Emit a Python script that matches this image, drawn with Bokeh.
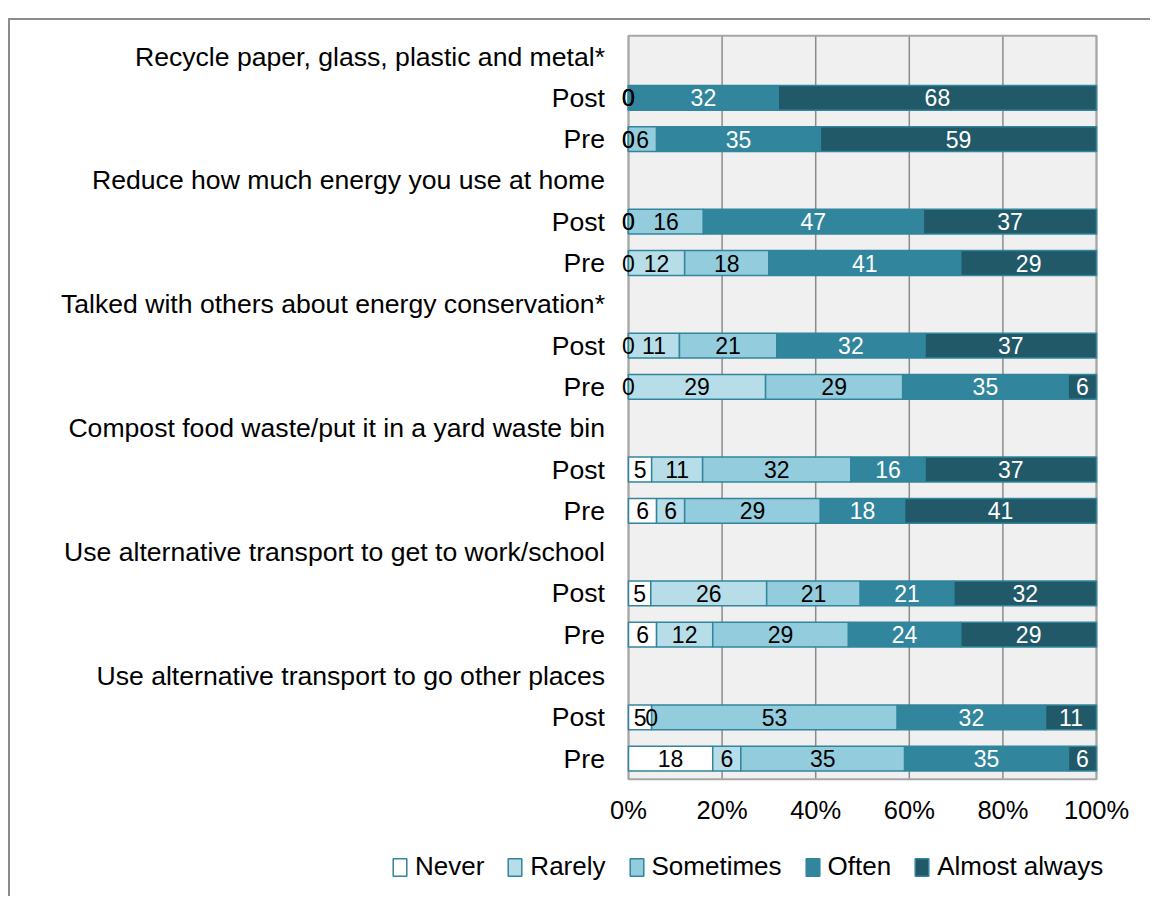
from bokeh.plotting import figure
from bokeh.models import ColumnDataSource, Range1d, Legend, LegendItem
from bokeh.core.properties import value
from bokeh.embed import file_html
from bokeh.resources import INLINE

categories = [
    "Recycle paper, glass, plastic and metal*",
    "Reduce how much energy you use at home",
    "Talked with others about energy conservation*",
    "Compost food waste/put it in a yard waste bin",
    "Use alternative transport to get to work/school",
    "Use alternative transport to go other places",
]
waves = ["Post", "Pre"]
series_names = ["Never", "Rarely", "Sometimes", "Often", "Almost always"]
# values per row: [cat0 Post, cat0 Pre, cat1 Post, cat1 Pre, ...]
never = [0, 0, 0, 0, 0, 0, 5, 6, 5, 6, 5, 18]
rarely = [0, 0, 0, 12, 11, 29, 11, 6, 26, 12, 0, 6]
sometimes = [0, 6, 16, 18, 21, 29, 32, 29, 21, 29, 53, 35]
often = [32, 35, 47, 41, 32, 35, 16, 18, 21, 24, 32, 35]
almost_always = [68, 59, 37, 29, 37, 6, 37, 41, 32, 29, 11, 6]
x_ticks = [0, 20, 40, 60, 80, 100]
x_tick_labels = ["0%", "20%", "40%", "60%", "80%", "100%"]

series = [never, rarely, sometimes, often, almost_always]
fills = ["#ffffff", "#b7dee8", "#93cddd", "#31859c", "#215968"]
label_colors = ["#000000", "#000000", "#000000", "#ffffff", "#ffffff"]
FONT = "Liberation Sans"

# ---- layout constants (pixels) ----
W, H = 1142, 878           # canvas (page offset by CSS margin+border: 10, 20)
PLOT_LEFT = 618            # canvas x of 0%
PX_PER_PCT = 4.68
ROW0 = 36                  # canvas y of first row centre
ROW_PX = 41.3
N_ROWS = 3 * len(categories)

# row positions: header, Post, Pre per category
row_y = []
tick_pos = []
tick_txt = []
for i, c in enumerate(categories):
    tick_pos.append(3 * i)
    tick_txt.append(c)
    for j, w in enumerate(waves):
        tick_pos.append(3 * i + 1 + j)
        tick_txt.append(w)
        row_y.append(3 * i + 1 + j)

totals = [sum(s[k] for s in series) for k in range(len(row_y))]

p = figure(
    width=W, height=H,
    x_range=Range1d(-PLOT_LEFT / PX_PER_PCT, (W - PLOT_LEFT) / PX_PER_PCT),
    y_range=Range1d((H - ROW0) / ROW_PX, -ROW0 / ROW_PX),
    x_axis_location=None, y_axis_location=None,
    output_backend="svg", toolbar_location=None,
    min_border=0,
)
p.styles = {
    "margin-left": "8px", "margin-top": "18px",
    "border-left": "2px solid #8c8c8c", "border-top": "2px solid #8c8c8c",
}
p.background_fill_color = "#ffffff"
p.border_fill_color = "#ffffff"
p.outline_line_color = None
p.grid.visible = False

y_top, y_bot = -0.5, N_ROWS - 0.5
x0, x1 = x_ticks[0], x_ticks[-1]

# plot-area background
p.quad(left=[x0], right=[x1], bottom=[y_bot], top=[y_top],
       fill_color="#f0f0f0", line_color=None)
# vertical gridlines
p.segment(x0=x_ticks, x1=x_ticks, y0=[y_top] * len(x_ticks), y1=[y_bot] * len(x_ticks),
          line_color="#8c8c8c", line_width=1.5)
# plot-area border
p.quad(left=[x0], right=[x1], bottom=[y_bot], top=[y_top],
       fill_color=None, line_color="#a6a6a6", line_width=2)

renderers = []
lab_x, lab_y, lab_t, lab_c = [], [], [], []
cum = [0.0] * len(row_y)
for si, (name, vals) in enumerate(zip(series_names, series)):
    left = [cum[k] for k in range(len(row_y))]
    right = [cum[k] + vals[k] / totals[k] * 100 for k in range(len(row_y))]
    cum = right
    src = ColumnDataSource(dict(y=row_y, left=left, right=right))
    r = p.hbar(y="y", left="left", right="right", height=0.6, source=src,
               fill_color=fills[si], line_color="#31859c", line_width=1.5)
    renderers.append((name, r))
    for k in range(len(row_y)):
        lab_x.append((left[k] + right[k]) / 2)
        lab_y.append(row_y[k])
        lab_t.append(str(vals[k]))
        lab_c.append(label_colors[si])

lsrc = ColumnDataSource(dict(x=lab_x, y=lab_y, t=lab_t, c=lab_c))
p.text(x="x", y="y", text="t", source=lsrc, text_align="center",
       text_baseline="middle", text_font_size=value("23px"), text_color="c",
       text_font=value(FONT))

# category / wave labels (left of plot area)
p.text(x=[-23.5 / PX_PER_PCT] * len(tick_pos), y=tick_pos, text=tick_txt,
       text_align="right", text_baseline="middle", text_font=value(FONT),
       text_font_size=value("26.6px"), text_color="#000000")

# x tick labels
p.text(x=x_ticks, y=[y_bot + 31 / ROW_PX] * len(x_ticks), text=x_tick_labels,
       text_align="center", text_baseline="middle", text_font=value(FONT),
       text_font_size=value("25.5px"), text_color="#000000")

legend = Legend(
    items=[LegendItem(label=n, renderers=[r]) for n, r in renderers],
    orientation="horizontal", location=(381, 16),
    padding=0, margin=0, spacing=22, label_standoff=7,
    glyph_width=17, glyph_height=22,
    border_line_color=None, background_fill_alpha=0,
    label_text_font=FONT, label_text_font_size="26px", label_text_color="#000000",
)
p.add_layout(legend, "center")

open("out.html", "w").write(file_html(p, INLINE))
